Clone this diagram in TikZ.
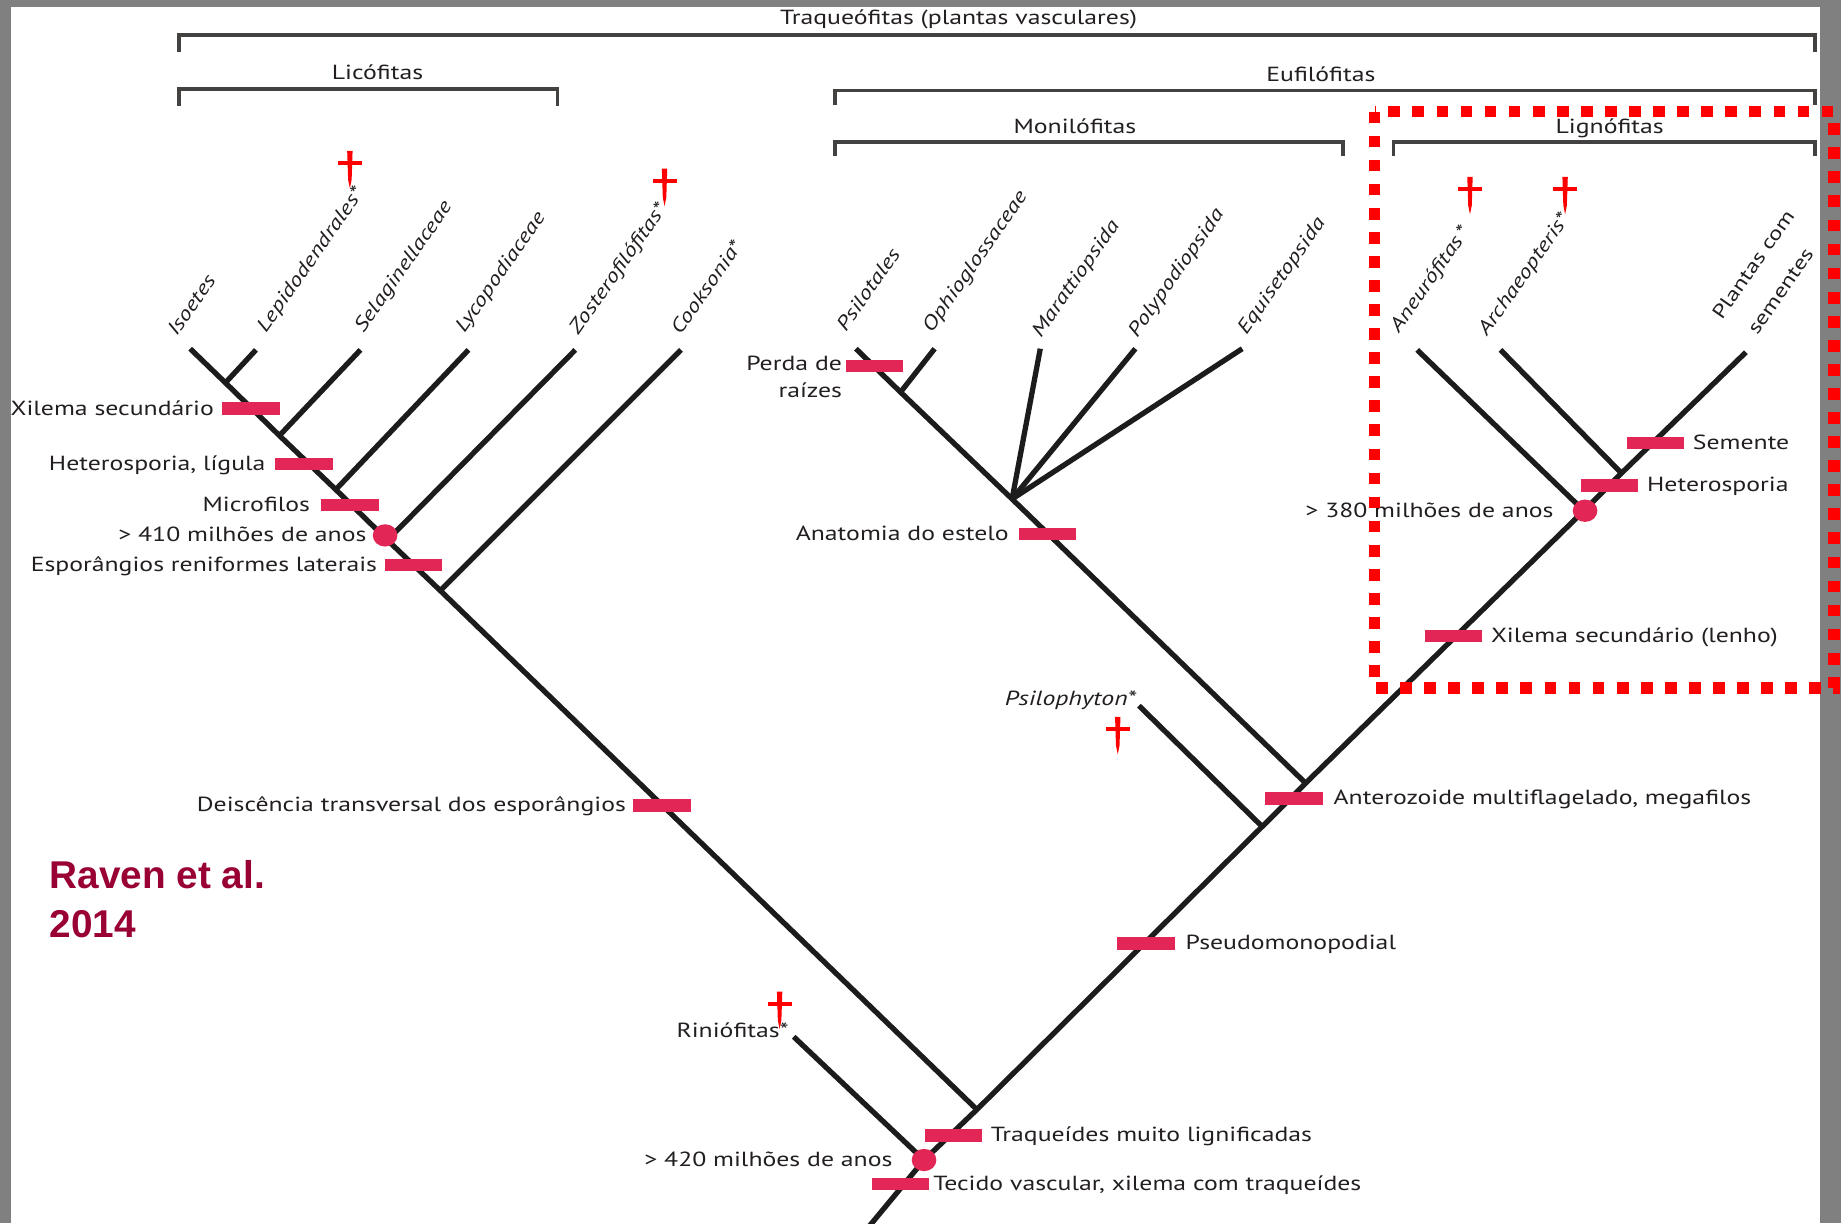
\documentclass[tikz,border=0pt]{standalone}
\usepackage{fontspec}
\setmainfont{PT Sans}[FakeStretch=1.26]
\newfontfamily\ravenfont{Liberation Sans}
\usepackage{tikz}
\usetikzlibrary{positioning,shapes.geometric}

\definecolor{barra}{RGB}{226,38,86}
\definecolor{tinta}{RGB}{35,31,32}
\definecolor{galho}{RGB}{28,28,28}
\definecolor{vinho}{RGB}{153,0,51}
\definecolor{fundo}{RGB}{128,128,128}
\newcommand{\corpo}{\fontsize{17.4}{21}\selectfont}
\newcommand{\rodado}{\fontsize{16.6}{20}\selectfont}

\tikzset{cruz/.pic={
    \fill[red] (-10.2,-1.7) rectangle (10.2,1.7);
    \fill[red] (-2.3,-10.4) -- (2.3,-10.4) -- (1.5,14) -- (0,21.5) -- (-1.5,14) -- cycle;
  }}

\begin{document}
\begin{tikzpicture}[x=1pt,y=-1pt,
    every node/.style={inner sep=1pt,text=tinta,font=\corpo},
    ramo/.style={line width=4.5pt,draw=galho},
    marca/.style={rectangle,fill=barra,minimum width=49pt,minimum height=10.5pt,inner sep=0pt},
    idade/.style={ellipse,fill=barra,minimum width=21pt,minimum height=19pt,inner sep=0pt},
    esq/.style={anchor=base east,yshift=-5.5pt},
    dir/.style={anchor=base west,yshift=-5.5pt},
    taxon/.style={rotate=55,anchor=base west,font=\rodado\itshape},
    grupo/.style={anchor=base},
    colchete/.style={line width=3pt,draw=tinta!85}]

\useasboundingbox (0,0) rectangle (1568,1042);
\fill[fundo] (0,0) rectangle (1568,1042);
\fill[white] (9,6) rectangle (1550,1043);

\draw[colchete] (152.5,44) |- (1546,30) -- (1546,44);
\draw[colchete] (152.5,90) |- (475,76) -- (475,90);
\draw[colchete] (711,89) |- (1546,77) -- (1546,89);
\draw[colchete] (711,133) |- (1144,121) -- (1144,133);
\draw[colchete] (1187,133) |- (1546,121) -- (1546,133);
\node[grupo] (traqueo) at (816.5,20.5) {Traqueófitas (plantas vasculares)};
\node[grupo] (lico) at (321.5,68) {Licófitas};
\node[grupo] (eufilo) at (1125,69.5) {Eufilófitas};
\node[grupo] (monilo) at (915.5,114) {Monilófitas};
\node[grupo] (ligno) at (1371,114) {Lignófitas};

\coordinate (root) at (739,1046);
\coordinate (jRin) at (787,988);
\coordinate (jLic) at (832,945);
\coordinate (jPhy) at (1075,704);
\coordinate (jMon) at (1112,667);
\coordinate (jAne) at (1349,435);
\coordinate (jArc) at (1381,403);
\coordinate (jCoo) at (375,503);
\coordinate (jZos) at (330,460);
\coordinate (jLyc) at (286,417);
\coordinate (jSel) at (238,371);
\coordinate (jLep) at (192,326);
\coordinate (jStar) at (862,425);
\coordinate (jOph) at (767,334);
\coordinate (tIso) at (162,297);
\coordinate (tLep) at (218,298);
\coordinate (tSel) at (307,298);
\coordinate (tLyc) at (399,298);
\coordinate (tZos) at (490,298);
\coordinate (tCoo) at (580,298);
\coordinate (tPsi) at (729,297);
\coordinate (tOph) at (796,297);
\coordinate (tMar) at (886,297);
\coordinate (tPol) at (967,297);
\coordinate (tEqu) at (1058,297);
\coordinate (tAne) at (1207,298);
\coordinate (tArc) at (1278,298);
\coordinate (tSem) at (1487,300);
\coordinate (tPhy) at (970,601);
\coordinate (tRin) at (676,883);

\draw[ramo] (root) -- (jRin) -- (jLic) -- (jPhy) -- (jMon) -- (jAne) -- (jArc) -- (tSem);
\draw[ramo] (jLic) -- (jCoo) -- (jZos) -- (jLyc) -- (jSel) -- (jLep) -- (tIso);
\draw[ramo] (jMon) -- (jStar) -- (jOph) -- (tPsi);
\foreach \a/\b in {jLep/tLep,jSel/tSel,jLyc/tLyc,jZos/tZos,jCoo/tCoo,jOph/tOph,
    jStar/tMar,jStar/tPol,jStar/tEqu,jAne/tAne,jArc/tArc,jPhy/tPhy,jRin/tRin}
  \draw[ramo] (\a) -- (\b);

\node[marca] (xil1) at (214,348) {};
\node[marca] (het1) at (259,395) {};
\node[marca] (micro) at (298,430) {};
\node[idade] (c410) at (328,456) {};
\node[marca] (espor) at (352,481) {};
\node[marca] (deisc) at (564,686) {};
\node[marca] (perda) at (745,311.5) {};
\node[marca] (anat) at (892,455) {};
\node[marca] (lenho) at (1238,541.5) {};
\node[idade] (c380) at (1350,435) {};
\node[marca] (het2) at (1371,413.5) {};
\node[marca] (sem) at (1410,377.5) {};
\node[marca] (antero) at (1102,680) {};
\node[marca] (pseudo) at (976,803.5) {};
\node[marca] (traq) at (812,967) {};
\node[idade] (c420) at (787,988) {};
\node[marca] (tecido) at (767,1008.5) {};

\node[left=6pt of xil1, esq] {Xilema secundário};
\node[left=7pt of het1, esq] {Heterosporia, lígula};
\node[left=8pt of micro, esq] {Microfilos};
\node[left=4pt of c410, esq] {> 410 milhões de anos};
\node[left=5pt of espor, esq] {Esporângios reniformes laterais};
\node[left=5pt of deisc, esq] {Deiscência transversal dos esporângios};
\node[align=right, anchor=north east, font=\fontsize{17.4}{22.7}\selectfont]
  at ([shift={(-2,-9.5)}]perda.west) {Perda de\\raízes};
\node[left=7pt of anat, esq] {Anatomia do estelo};
\node[right=6pt of lenho, dir] {Xilema secundário (lenho)};
\node[left=15pt of c380, esq] {> 380 milhões de anos};
\node[right=6pt of het2, dir] {Heterosporia};
\node[right=6pt of sem, dir] {Semente};
\node[right=8pt of antero, dir] {Anterozoide multiflagelado, megafilos};
\node[right=8pt of pseudo, dir] {Pseudomonopodial};
\node[right=6pt of traq, dir] {Traqueídes muito lignificadas};
\node[left=15pt of c420, esq] {> 420 milhões de anos};
\node[right=2pt of tecido, dir] {Tecido vascular, xilema com traqueídes};

\node[taxon] (isoetes) at (150,288) {Isoetes};
\node[taxon] (lepido) at (226,285) {Lepidodendrales*};
\node[taxon] (selag) at (309,285) {Selaginellaceae};
\node[taxon] (lycop) at (395,285) {Lycopodiaceae};
\node[taxon] (zoster) at (492,287) {Zosterofilófitas*};
\node[taxon] (cooks) at (579,287) {Cooksonia*};
\node[taxon] (psilo) at (720,284) {Psilotales};
\node[taxon] (ophio) at (793,285) {Ophioglossaceae};
\node[taxon] (maratt) at (886,289) {Marattiopsida};
\node[taxon] (polyp) at (968,289) {Polypodiopsida};
\node[taxon] (equis) at (1061,287) {Equisetopsida};
\node[taxon] (aneuro) at (1191,285) {Aneurófitas\,*};
\node[taxon] (archae) at (1266,288) {Archaeopteris*};
\node[taxon, font=\rodado] (plantas) at (1466,274) {Plantas com};
\node[taxon, font=\rodado] (sementes) at (1496,287) {sementes};
\node[anchor=base east, font=\corpo\itshape] (psiloph) at (969,601) {Psilophyton*};
\node[anchor=base east] (rinio) at (673,883.5) {Riniófitas*};

\pic at (298,139) {cruz};
\pic at (566,154) {cruz};
\pic at (1252,161) {cruz};
\pic at (1333,161) {cruz};
\pic at (952,621) {cruz};
\pic at (664,855) {cruz};

\node[font=\ravenfont\fontsize{33}{41}\selectfont\bfseries, text=vinho, align=left,
  anchor=north west, inner sep=0pt] (raven) at (42,733) {Raven et al.\\2014};

\draw[red, line width=9.5pt, dash pattern=on 10pt off 10.5pt] (1171,95) rectangle (1562,586);
\end{tikzpicture}
\end{document}
